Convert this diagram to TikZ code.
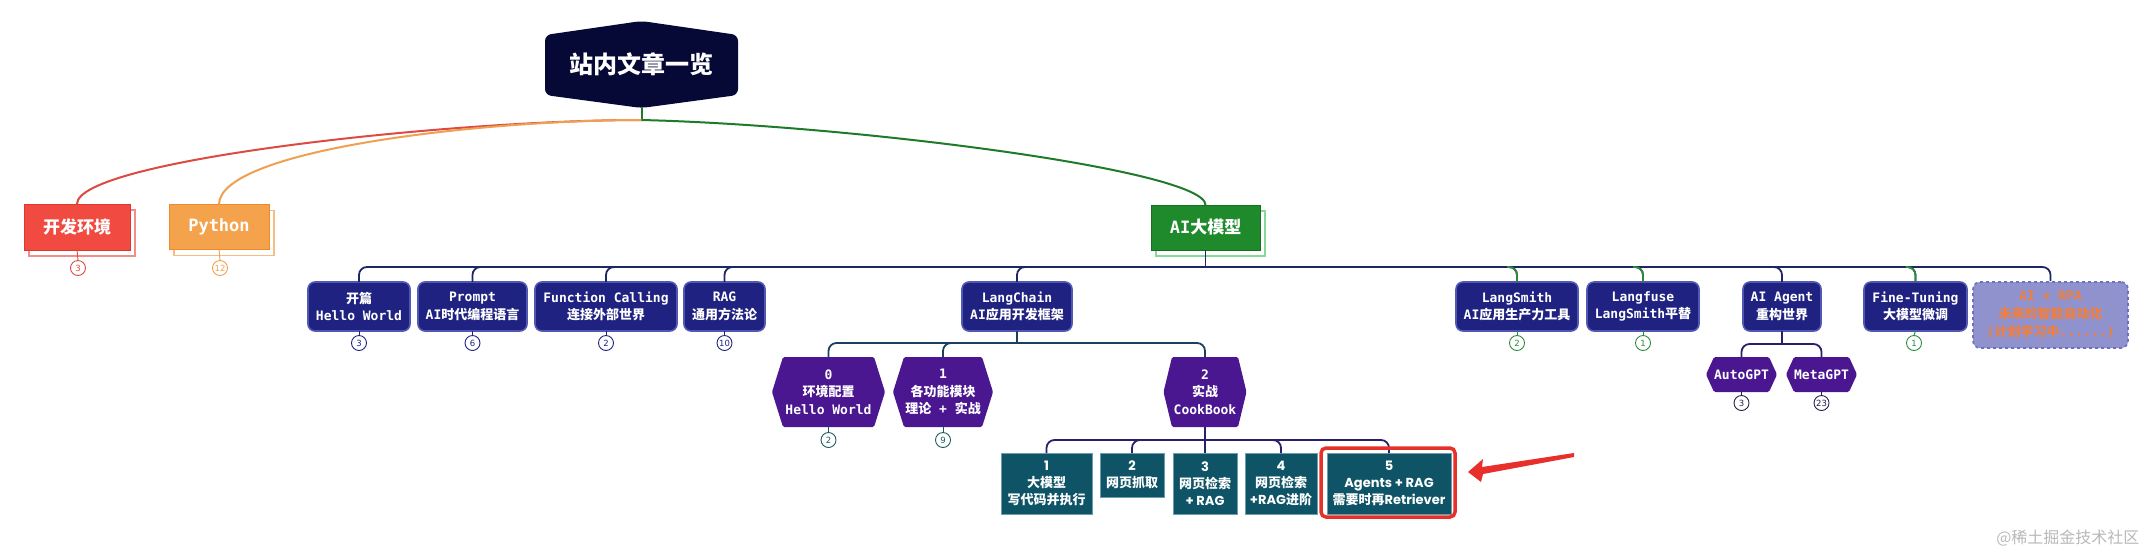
\documentclass[tikz,border=0pt]{standalone}
\usepackage{fontspec}
\setmainfont{DejaVu Sans Mono}
\setsansfont{DejaVu Sans}
\newfontfamily\zhfont{Noto Sans CJK SC}
\newfontfamily\popfont{Poppins}
\newcommand\zh[1]{{\zhfont #1}}
\usetikzlibrary{shadows}
\definecolor{navyfill}{HTML}{1F2280}
\definecolor{navyedge}{HTML}{5158B4}
\definecolor{hexpurple}{HTML}{4A1790}
\definecolor{tealfill}{HTML}{0E5466}
\definecolor{tealedge}{HTML}{6A9EAC}
\definecolor{barnavy}{HTML}{1E2766}
\definecolor{lcline}{HTML}{1B3F5C}
\definecolor{cbline}{HTML}{28206A}
\definecolor{grline}{HTML}{2A8A3A}
\definecolor{rootfill}{HTML}{060836}
\definecolor{redfill}{HTML}{F14A40}
\definecolor{rededge}{HTML}{E0362E}
\definecolor{redshadow}{HTML}{F28E88}
\definecolor{redline}{HTML}{DC4A42}
\definecolor{orfill}{HTML}{F4A24C}
\definecolor{oredge}{HTML}{EE8A2C}
\definecolor{orshadow}{HTML}{F5BE84}
\definecolor{orline}{HTML}{EFA050}
\definecolor{grfill}{HTML}{1E8A2B}
\definecolor{gredge}{HTML}{157020}
\definecolor{grshadow}{HTML}{86D996}
\definecolor{grcurve}{HTML}{1F7A2A}
\definecolor{rpafill}{HTML}{8F92CC}
\definecolor{rpaedge}{HTML}{6B70C2}
\definecolor{rpatext}{HTML}{F07E3E}
\definecolor{arrowred}{HTML}{E8302A}
\definecolor{wmgray}{HTML}{B8B8B8}
\definecolor{cntteal}{HTML}{1C5A5E}
\definecolor{cntdark}{HTML}{20204A}

\tikzset{
  l1box/.style n args={3}{rectangle, fill=#1, draw=#2, line width=1pt, text=white,
    inner sep=0pt, outer sep=0pt,
    copy shadow={shadow xshift=5pt, shadow yshift=-6pt, fill=white, draw=#3, line width=1.3pt},
    font=\bfseries\fontsize{17}{17}\selectfont},
  l2box/.style={rectangle, rounded corners=7pt, fill=navyfill, draw=navyedge, line width=1.6pt,
    text=white, align=center, inner sep=0pt, outer sep=0pt, minimum height=49pt,
    font=\bfseries\fontsize{13}{17.5}\selectfont},
  hexshape/.style 2 args={inner sep=0pt, outer sep=0pt, text=white, align=center,
    font=\bfseries\fontsize{13}{17.5}\selectfont,
    path picture={\fill[#2, rounded corners=1.5pt]
      ([xshift=#1]path picture bounding box.north west) --
      ([xshift=-#1]path picture bounding box.north east) --
      (path picture bounding box.east) --
      ([xshift=-#1]path picture bounding box.south east) --
      ([xshift=#1]path picture bounding box.south west) --
      (path picture bounding box.west) -- cycle;}},
  roothex/.style={inner sep=0pt, outer sep=0pt, text=white,
    font=\zhfont\bfseries\fontsize{24}{24}\selectfont,
    path picture={\fill[rootfill, rounded corners=6pt]
      ([yshift=-14pt]path picture bounding box.north west) --
      (path picture bounding box.north) --
      ([yshift=-14pt]path picture bounding box.north east) --
      ([yshift=13pt]path picture bounding box.south east) --
      (path picture bounding box.south) --
      ([yshift=13pt]path picture bounding box.south west) -- cycle;}},
  tealbox/.style={rectangle, fill=tealfill, draw=tealedge, line width=0.8pt, text=white,
    align=center, inner sep=0pt, outer sep=0pt,
    font=\popfont\bfseries\fontsize{13}{17}\selectfont},
  cnt/.style={circle, draw=#1, text=#1, fill=white, line width=0.9pt, inner sep=0pt,
    minimum size=15pt, font=\sffamily\fontsize{8.5}{9}\selectfont},
  barline/.style={line width=1.8pt, draw=#1, rounded corners=8pt},
  cntline/.style={line width=0.9pt, draw=#1},
}

\begin{document}
\begin{tikzpicture}[x=1pt,y=-1pt]
\useasboundingbox (0,0) rectangle (2146,558);

% root
\node[roothex, minimum width=193pt, minimum height=87pt] (root) at (641.5,64.5) {站内文章一览};
\coordinate (rootT) at (641.5,120);

% level 1
\node[l1box={redfill}{rededge}{redshadow}, minimum width=106pt, minimum height=46pt] (kf) at (77,227) {\zh{开发环境}};
\node[l1box={orfill}{oredge}{orshadow}, minimum width=100pt, minimum height=45pt] (py) at (219,227) {Python};
\node[l1box={grfill}{gredge}{grshadow}, minimum width=109pt, minimum height=45pt] (ai) at (1205.5,227.5) {AI\zh{大模型}};

\draw[line width=2pt, grcurve] (root.south) -- (rootT);
\draw[line width=2pt, redline] (rootT) .. controls (450,120) and (77,160) .. (kf.north);
\draw[line width=2pt, orline] (rootT) .. controls (480,120) and (219,150) .. (py.north);
\draw[line width=2pt, grcurve] (rootT) .. controls (850,125) and (1205.5,170) .. (ai.north);

\node[cnt=redline] (ckf) at (78,268) {3};
\node[cnt=orline] (cpy) at (220,268) {12};
\draw[cntline=redline] (kf.south) -- (ckf.north);
\draw[cntline=orline] (py.south) -- (cpy.north);

% level 2
\node[l2box, minimum width=102pt] (kp) at (359,306.5) {\zh{开篇}\\Hello World};
\node[l2box, minimum width=109pt] (pr) at (472.5,306.5) {Prompt\\AI\zh{时代编程语言}};
\node[l2box, minimum width=142pt] (fc) at (606,306.5) {Function Calling\\\zh{连接外部世界}};
\node[l2box, minimum width=81pt] (rag) at (724.5,306.5) {RAG\\\zh{通用方法论}};
\node[l2box, minimum width=110pt] (lc) at (1017,306.5) {LangChain\\AI\zh{应用开发框架}};
\node[l2box, minimum width=122pt] (ls) at (1517,306.5) {LangSmith\\AI\zh{应用生产力工具}};
\node[l2box, minimum width=112pt] (lf) at (1643,306.5) {Langfuse\\LangSmith\zh{平替}};
\node[l2box, minimum width=78pt] (ag) at (1782,306.5) {AI Agent\\\zh{重构世界}};
\node[l2box, minimum width=103pt] (ft) at (1915.5,306.5) {Fine-Tuning\\\zh{大模型微调}};
\node[rectangle, rounded corners=7pt, fill=rpafill, draw=rpaedge, dashed, line width=1.6pt,
  text=rpatext, align=center, inner sep=0pt, minimum width=155pt, minimum height=66pt,
  font=\bfseries\fontsize{13}{18}\selectfont] (rpa) at (2050.5,315) {AI + RPA\\\zh{未来的智能自动化}\\(\zh{计划学习中}......)};

\coordinate (aiT) at (1205.5,267);
\draw[line width=1.8pt, barnavy] (ai.south) -- (aiT);
\foreach \n in {kp,pr,fc,rag,lc,ls,lf,ag,ft,rpa}{
  \draw[barline=barnavy] (aiT) -| (\n.north);
}
\foreach \n in {ls,lf,ft}{
  \draw[barline=grline] ([xshift=-10pt]\n.north |- aiT) -| (\n.north);
}

\node[cnt=navyfill] (ckp) at (359,343) {3};
\node[cnt=navyfill] (cpr) at (472.5,343) {6};
\node[cnt=navyfill] (cfc) at (606,343) {2};
\node[cnt=navyfill] (crag) at (724.5,343) {10};
\node[cnt=grline] (cls) at (1517,343) {2};
\node[cnt=grline] (clf) at (1643,343) {1};
\node[cnt=grline] (cft) at (1914,343) {1};
\foreach \a/\b/\c in {kp/ckp/navyfill, pr/cpr/navyfill, fc/cfc/navyfill, rag/crag/navyfill, ls/cls/grline, lf/clf/grline, ft/cft/grline}{
  \draw[cntline=\c] (\a.south) -- (\b.north);
}

% LangChain children
\node[hexshape={11pt}{hexpurple}, minimum width=113pt, minimum height=70pt] (h0) at (828.5,392) {0\\\zh{环境配置}\\Hello World};
\node[hexshape={11pt}{hexpurple}, minimum width=100pt, minimum height=70pt] (h1) at (943,392) {1\\\zh{各功能模块}\\\zh{理论} + \zh{实战}};
\node[hexshape={8.5pt}{hexpurple}, minimum width=83pt, minimum height=70pt] (h2) at (1205,392) {2\\\zh{实战}\\CookBook};
\coordinate (lcT) at (1017,343);
\draw[line width=1.8pt, lcline] (lc.south) -- (lcT);
\foreach \n in {h0,h1,h2}{
  \draw[barline=lcline] (lcT) -| (\n.north);
}
\node[cnt=cntteal] (ch0) at (828.5,440) {2};
\node[cnt=cntteal] (ch1) at (943,440) {9};
\draw[cntline=cntteal] (h0.south) -- (ch0.north);
\draw[cntline=cntteal] (h1.south) -- (ch1.north);

% CookBook children
\node[tealbox, minimum width=91pt, minimum height=61pt] (t1) at (1046.5,483.5) {1\\\zh{大模型}\\\zh{写代码并执行}};
\node[tealbox, minimum width=64pt, minimum height=44pt] (t2) at (1132,475) {2\\\zh{网页抓取}};
\node[tealbox, minimum width=64pt, minimum height=61pt] (t3) at (1205,483.5) {3\\\zh{网页检索}\\+ RAG};
\node[tealbox, minimum width=72pt, minimum height=61pt] (t4) at (1281,483.5) {4\\\zh{网页检索}\\+RAG\zh{进阶}};
\node[tealbox, minimum width=124pt, minimum height=61pt] (t5) at (1389,483.5) {5\\Agents + RAG\\\zh{需要时再}Retriever};
\coordinate (cbT) at (1205,440);
\draw[line width=1.8pt, cbline] (h2.south) -- (cbT);
\foreach \n in {t1,t2,t3,t4,t5}{
  \draw[barline=cbline] (cbT) -| (\n.north);
}
\draw[arrowred, line width=3.5pt, rounded corners=5pt] ([shift={(-6pt,5pt)}]t5.north west) rectangle ([shift={(4pt,-3pt)}]t5.south east);

% AI Agent children
\node[hexshape={8pt}{hexpurple}, minimum width=71pt, minimum height=35pt] (auto) at (1741.5,374.5) {AutoGPT};
\node[hexshape={8pt}{hexpurple}, minimum width=71pt, minimum height=35pt] (meta) at (1821.5,374.5) {MetaGPT};
\coordinate (agT) at (1782,344);
\draw[line width=1.8pt, cbline] (ag.south) -- (agT);
\foreach \n in {auto,meta}{
  \draw[barline=cbline] (agT) -| (\n.north);
}
\node[cnt=cntdark] (cauto) at (1741.5,403) {3};
\node[cnt=cntdark] (cmeta) at (1821.5,403) {23};
\draw[cntline=cntdark] (auto.south) -- (cauto.north);
\draw[cntline=cntdark] (meta.south) -- (cmeta.north);

% red arrow pointing at the highlighted box
\coordinate (atip) at (1468,472);
\fill[arrowred] (atip) -- (1483,459) -- (1482,467) -- (1574,453) -- (1574,457) -- (1483,474) -- (1481,482) -- cycle;

% watermark
\node[anchor=east, text=wmgray, font=\zhfont\fontsize{16}{16}\selectfont] (wm) at (2143,538) {@稀土掘金技术社区};
\end{tikzpicture}
\end{document}
